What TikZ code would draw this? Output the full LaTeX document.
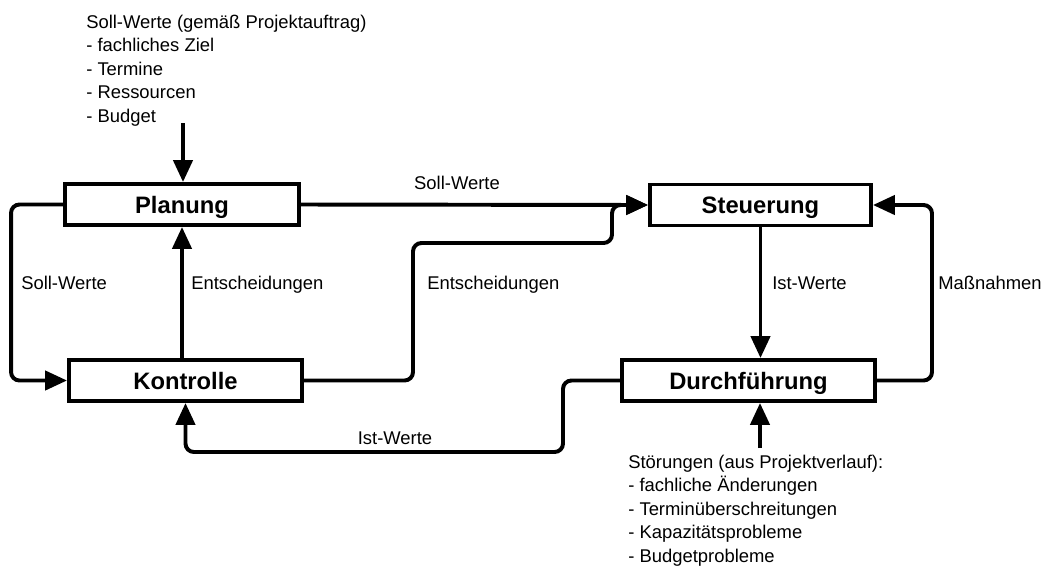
\documentclass[tikz,border=0pt]{standalone}
\usepackage{fontspec}
\setmainfont{Liberation Sans}
\usetikzlibrary{arrows.meta}

\newcommand{\pxl}{0.025cm}
\tikzset{
  phase/.style={draw, line width=2.8pt, minimum height=41*\pxl, inner sep=0pt,
    text height=12.3pt, text depth=0pt, font=\fontsize{16.9pt}{20pt}\selectfont\bfseries},
  flow/.style={line width=2.8pt, rounded corners=6pt, -{Triangle[length=15.5pt,width=13.5pt]}},
  lbl/.style={anchor=base west, inner sep=0pt, font=\fontsize{13.1pt}{16.6pt}\selectfont},
  note/.style={anchor=north west, inner sep=0pt, align=left, font=\fontsize{13.1pt}{16.6pt}\selectfont}
}

\begin{document}
\begin{tikzpicture}[x=\pxl, y=-\pxl]
\useasboundingbox (0,0) rectangle (1042,568);

% Phasen
\node[phase, minimum width=234*\pxl] (Plan) at (182,204.5) {Planung};
\node[phase, minimum width=233*\pxl] (Kontr) at (185.5,380.5) {Kontrolle};
\node[phase, minimum width=221*\pxl] (Steu) at (760.5,205) {Steuerung};
\node[phase, minimum width=253*\pxl] (Durch) at (748.5,380.5) {Durchführung};

% Eingaben von aussen
\node[note] (sollIn) at (86,15) {Soll-Werte (gemäß Projektauftrag)\\- fachliches Ziel\\- Termine\\- Ressourcen\\- Budget};
\node[note] (stoerIn) at (628,455) {Störungen (aus Projektverlauf):\\- fachliche Änderungen\\- Terminüberschreitungen\\- Kapazitätsprobleme\\- Budgetprobleme};
\coordinate (soll) at (183,123);
\coordinate (stoer) at (760,448);
\draw[flow] (soll) -- (soll |- Plan.north);
\draw[flow] (stoer) -- (stoer |- Durch.south);

% Verbindungen
\draw[flow] (Plan.west) -- ++(-52,0) |- (Kontr.west);
\draw[flow] (Plan.south |- Kontr.north) -- (Plan.south);
\draw[flow] (Plan.east) -- (Steu.west);
\draw[flow] (Kontr.east) -| (413,243) -| (612,205) -- (Steu.west);
\draw[flow] (Steu.south) -- (Steu.south |- Durch.north);
\draw[flow] (Durch.east) -| (932,205) -- (Steu.east);
\draw[flow] (Durch.west) -| (563,452) -| (Kontr.south);

% Beschriftungen
\node[lbl, anchor=base] (lSollTop) at (457,189.7) {Soll-Werte};
\node[lbl] (lSollLeft) at (21,289.7) {Soll-Werte};
\node[lbl] (lEntsch1) at (191,289.7) {Entscheidungen};
\node[lbl] (lEntsch2) at (427,289) {Entscheidungen};
\node[lbl] (lIst1) at (772,289) {Ist-Werte};
\node[lbl] (lMass) at (938,289) {Maßnahmen};
\node[lbl, anchor=base] (lIst2) at (395,444.7) {Ist-Werte};
\end{tikzpicture}
\end{document}
